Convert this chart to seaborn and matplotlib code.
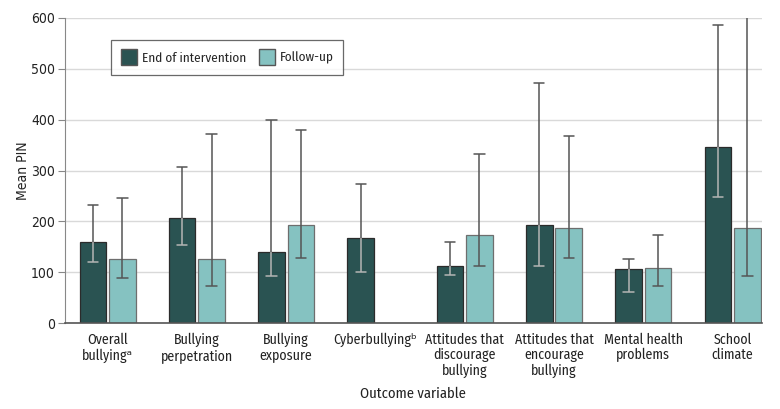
import matplotlib
matplotlib.use("Agg")
import matplotlib.pyplot as plt
import seaborn as sns
import pandas as pd
import numpy as np

categories = ["Overall\nbullying\u1d43", "Bullying\nperpetration", "Bullying\nexposure",
              "Cyberbullying\u1d47", "Attitudes that\ndiscourage\nbullying",
              "Attitudes that\nencourage\nbullying", "Mental health\nproblems", "School\nclimate"]
series = ["End of intervention", "Follow-up"]
end_vals = [159, 207, 140, 167, 113, 193, 107, 347]
end_lo = [120, 153, 93, 100, 95, 113, 62, 248]
end_hi = [232, 307, 400, 274, 160, 473, 127, 587]
fu_vals = [127, 127, 193, np.nan, 173, 187, 108, 187]
fu_lo = [88, 72, 128, np.nan, 113, 128, 72, 93]
fu_hi = [247, 372, 380, np.nan, 333, 367, 173, 650]

sns.set_style("white")
plt.rcParams['font.family'] = ['Fira Sans Condensed', 'Roboto Condensed', 'Roboto', 'DejaVu Sans']

df = pd.DataFrame({
    "cat": categories * 2,
    "series": [series[0]] * 8 + [series[1]] * 8,
    "val": end_vals + fu_vals,
    "lo": end_lo + fu_lo,
    "hi": end_hi + fu_hi,
})

dark = "#2a5352"
light = "#85c2c1"

fig = plt.figure(figsize=(7.8, 4.09), dpi=100)
ax = fig.add_axes([0.083, 0.210, 0.894, 0.746])
sns.barplot(data=df, x="cat", y="val", hue="series", palette=[dark, light],
            saturation=1, width=0.66, gap=0.1, errorbar=None, ax=ax, zorder=2, legend=True)

lookup = {(r.series, i % 8): r for i, r in enumerate(df.itertuples())}

for ci, cont in enumerate(ax.containers):
    for patch in cont.patches:
        xc = patch.get_x() + patch.get_width() / 2
        idx = int(round(xc))
        row = lookup[(series[ci], idx)]
        if np.isnan(row.val):
            continue
        patch.set_edgecolor("#2b2b2b" if ci == 0 else "#6e6e6e")
        patch.set_linewidth(0.9)
        h = row.val
        inside_col = "#b5b5b5" if ci == 0 else "#555555"
        out_col = "#555555"
        lo, hi = row.lo, row.hi
        cw = 0.058
        ax.plot([xc, xc], [lo, min(hi, h)], color=inside_col, lw=1.1, zorder=3,
                solid_capstyle="butt")
        if hi > h:
            ax.plot([xc, xc], [h, hi], color=out_col, lw=1.1, zorder=3, solid_capstyle="butt")
        ax.plot([xc - cw, xc + cw], [lo, lo], color=inside_col if lo < h else out_col,
                lw=1.1, zorder=3)
        if hi < 600:
            ax.plot([xc - cw, xc + cw], [hi, hi], color=inside_col if hi < h else out_col,
                    lw=1.1, zorder=3)

ax.set_ylim(0, 600)
ax.set_xlim(-0.48, 7.33)
ax.set_yticks(range(0, 601, 100))
ax.yaxis.grid(True, color="#d9d9d9", lw=1)
ax.set_axisbelow(True)
for sp in ["top", "right"]:
    ax.spines[sp].set_visible(False)
ax.spines["left"].set_color("#888888")
ax.spines["bottom"].set_color("#555555")
ax.spines["bottom"].set_linewidth(1.2)
ax.tick_params(axis="y", length=5, color="#888888", labelsize=10, labelcolor="#222222",
               direction="out", left=True, pad=2)
for t in ax.get_yticklabels():
    t.set_family("DejaVu Sans")
    t.set_fontstretch("condensed")
ax.tick_params(axis="x", length=0, labelsize=10, labelcolor="#222222", pad=7)
for t in ax.get_xticklabels():
    t.set_linespacing(1.1)
ax.set_ylabel("Mean PIN", fontsize=10, family="DejaVu Sans", fontstretch="condensed",
              color="#222222", labelpad=1)
ax.set_xlabel("Outcome variable", fontsize=10.5, color="#222222", labelpad=6)

leg = ax.legend(loc="upper left", bbox_to_anchor=(0.067, 0.928), borderaxespad=0,
                ncol=2, frameon=True, fancybox=False, edgecolor="#444444", fontsize=9.5,
                handlelength=1.2, handleheight=1.5, columnspacing=1.0,
                handletextpad=0.4, borderpad=0.7)
leg.get_frame().set_linewidth(0.9)
for hnd in leg.legend_handles:
    hnd.set_edgecolor("#555555")

fig.savefig("out.png", dpi=100)
